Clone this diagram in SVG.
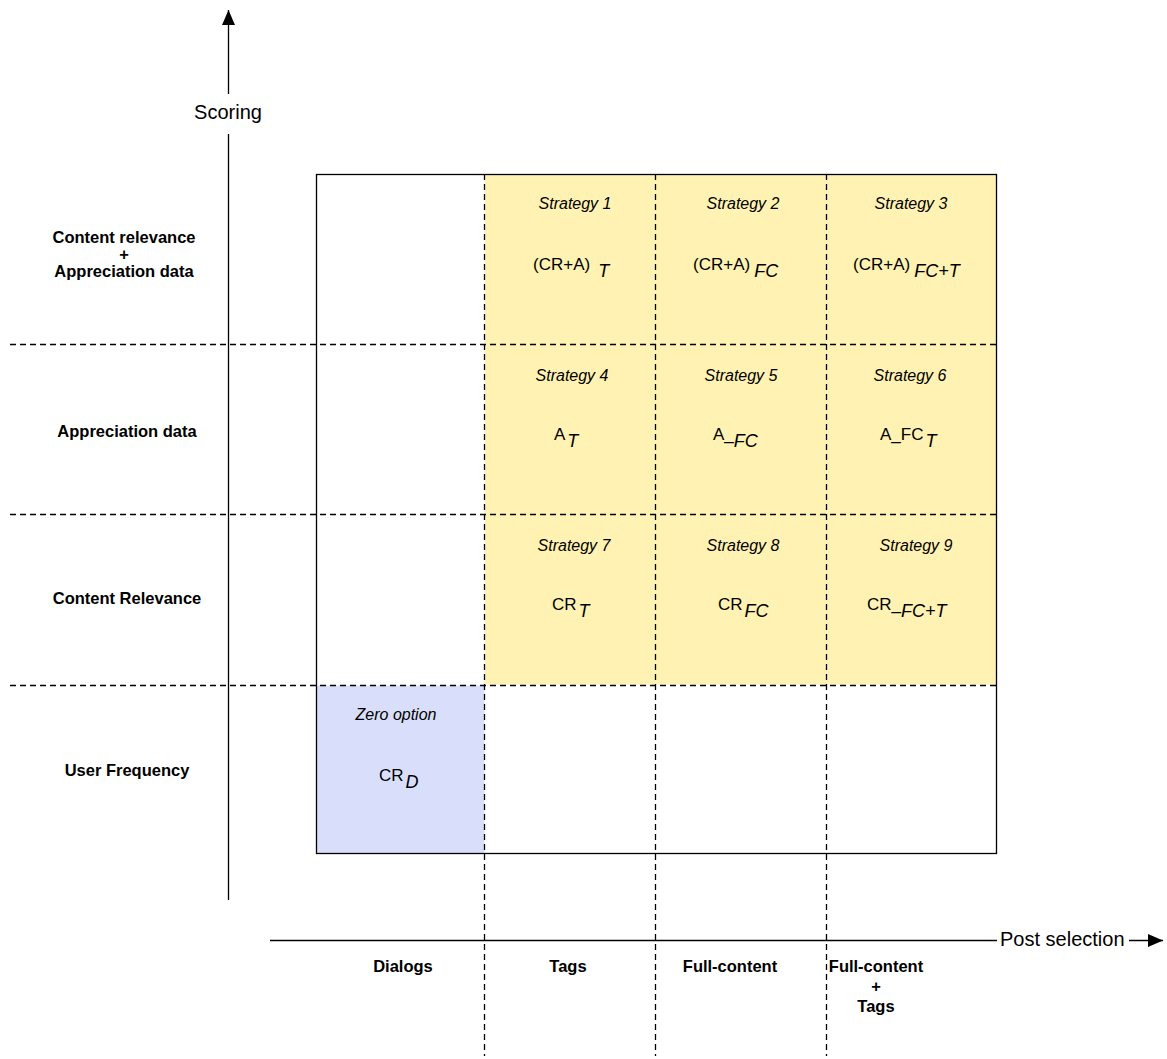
<svg xmlns="http://www.w3.org/2000/svg" width="1167" height="1059" viewBox="0 0 1167 1059">
<style>
.lbl{font-family:"Liberation Sans",Arial,sans-serif;font-weight:bold;font-size:16.5px;fill:#000;text-anchor:middle}
.ax{font-family:"Liberation Sans",Arial,sans-serif;font-size:20px;fill:#000}
.st{font-family:"Liberation Sans",Arial,sans-serif;font-style:italic;font-size:16px;fill:#000;text-anchor:middle}
.fm{font-family:"Liberation Sans",Arial,sans-serif;font-size:17px;fill:#000}
.sb{font-style:italic;font-size:18px}
.dash{stroke:#000;stroke-width:1.3;stroke-dasharray:6 4;fill:none}
.solid{stroke:#000;stroke-width:1.3;fill:none}
</style>
<defs>
<marker id="ah" markerWidth="16" markerHeight="14" refX="15" refY="7" orient="auto" markerUnits="userSpaceOnUse">
<path d="M0,0.5 L15,7 L0,13.5 Z" fill="#000"/>
</marker>
</defs>
<rect width="1167" height="1059" fill="#fff"/>
<g id="cells">
<rect id="strategies-bg" x="484.5" y="174.5" width="512" height="510" fill="#fff2b3"/>
<rect id="zero-bg" x="316.5" y="685.5" width="168" height="168" fill="#d9dffb"/>
<rect id="frame" x="316.5" y="174.5" width="680" height="679" class="solid"/>
</g>
<g id="connectors">
<line x1="10" y1="344.5" x2="997" y2="344.5" class="dash"/>
<line x1="10" y1="514.5" x2="997" y2="514.5" class="dash"/>
<line x1="10" y1="685.5" x2="997" y2="685.5" class="dash"/>
<line x1="484.5" y1="174" x2="484.5" y2="1056" class="dash"/>
<line x1="655.5" y1="174" x2="655.5" y2="1056" class="dash"/>
<line x1="826.5" y1="174" x2="826.5" y2="1056" class="dash"/>
<line id="y-axis" x1="228.5" y1="900" x2="228.5" y2="10" class="solid" marker-end="url(#ah)"/>
<line id="x-axis" x1="270" y1="940.5" x2="1163" y2="940.5" class="solid" marker-end="url(#ah)"/>
</g>
<g id="axis-labels">
<rect x="190" y="94" width="76" height="40" fill="#fff"/>
<text class="ax" x="228" y="119" text-anchor="middle">Scoring</text>
<rect x="997" y="928" width="132" height="24" fill="#fff"/>
<text class="ax" x="1000" y="946">Post selection</text>
</g>
<g id="row-labels">
<text class="lbl" x="124" y="243">Content relevance</text>
<text class="lbl" x="124" y="260">+</text>
<text class="lbl" x="124" y="277">Appreciation data</text>
<text class="lbl" x="127" y="437">Appreciation data</text>
<text class="lbl" x="127" y="604">Content Relevance</text>
<text class="lbl" x="127" y="776">User Frequency</text>
</g>
<g id="col-labels">
<text class="lbl" x="403" y="972">Dialogs</text>
<text class="lbl" x="568" y="972">Tags</text>
<text class="lbl" x="730" y="972">Full-content</text>
<text class="lbl" x="876" y="972">Full-content</text>
<text class="lbl" x="876" y="992">+</text>
<text class="lbl" x="876" y="1012">Tags</text>
</g>
<g id="strategy-1"><text class="st" x="575" y="209">Strategy 1</text><text class="fm" x="533" y="270">(CR+A)<tspan class="sb" dx="8" dy="7">T</tspan></text></g>
<g id="strategy-2"><text class="st" x="743" y="209">Strategy 2</text><text class="fm" x="693" y="270">(CR+A)<tspan class="sb" dx="4" dy="7">FC</tspan></text></g>
<g id="strategy-3"><text class="st" x="911" y="209">Strategy 3</text><text class="fm" x="853" y="270">(CR+A)<tspan class="sb" dx="4" dy="7">FC+T</tspan></text></g>
<g id="strategy-4"><text class="st" x="572" y="381">Strategy 4</text><text class="fm" x="554" y="440">A<tspan class="sb" dx="2" dy="7">T</tspan></text></g>
<g id="strategy-5"><text class="st" x="741" y="381">Strategy 5</text><text class="fm" x="713" y="440">A_<tspan class="sb" dx="0" dy="7">FC</tspan></text></g>
<g id="strategy-6"><text class="st" x="910" y="381">Strategy 6</text><text class="fm" x="880" y="440">A_FC<tspan class="sb" dx="2" dy="7">T</tspan></text></g>
<g id="strategy-7"><text class="st" x="574" y="551">Strategy 7</text><text class="fm" x="552" y="610">CR<tspan class="sb" dx="2" dy="7">T</tspan></text></g>
<g id="strategy-8"><text class="st" x="743" y="551">Strategy 8</text><text class="fm" x="718" y="610">CR<tspan class="sb" dx="2" dy="7">FC</tspan></text></g>
<g id="strategy-9"><text class="st" x="916" y="551">Strategy 9</text><text class="fm" x="867" y="610">CR_<tspan class="sb" dx="0" dy="7">FC+T</tspan></text></g>
<g id="zero-option"><text class="st" x="396" y="720">Zero option</text><text class="fm" x="379" y="781">CR<tspan class="sb" dx="2" dy="7">D</tspan></text></g>
</svg>
